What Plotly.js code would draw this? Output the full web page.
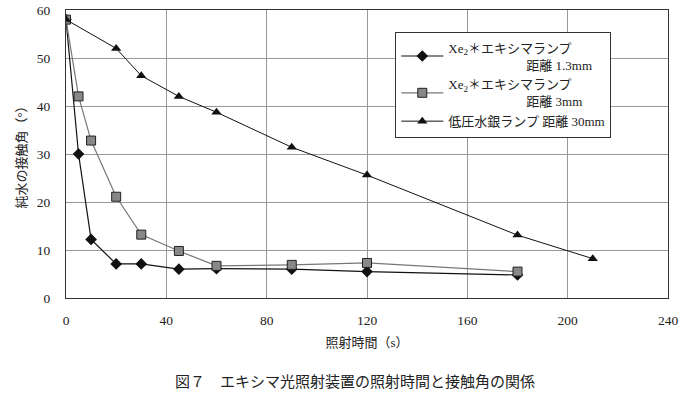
<!DOCTYPE html>
<html><head><meta charset="utf-8">
<script src="https://cdn.plot.ly/plotly-3.0.1.min.js"></script>
<style>html,body{margin:0;padding:0;background:#fff;}#chart{width:694px;height:395px;}</style>
</head><body><div id="chart"></div>
<script>
const timeA = [0, 5, 10, 20, 30, 45, 60, 90, 120, 180];
const angleA = [58, 30, 12.2, 7.1, 7.1, 6.0, 6.1, 6.0, 5.5, 4.8];
const timeB = [0, 5, 10, 20, 30, 45, 60, 90, 120, 180];
const angleB = [58, 42, 32.8, 21.1, 13.2, 9.8, 6.7, 6.9, 7.3, 5.5];
const timeC = [0, 20, 30, 45, 60, 90, 120, 180, 210];
const angleC = [58, 52, 46.3, 42, 38.7, 31.4, 25.6, 13.1, 8.2];
const nameA = "Xe<sub>2</sub>＊エキシマランプ<br>　　　　　　距離 1.3mm";
const nameB = "Xe<sub>2</sub>＊エキシマランプ<br>　　　　　　距離 3mm";
const nameC = "低圧水銀ランプ 距離 30mm";
const xTicks = [0, 40, 80, 120, 160, 200, 240];
const yTicks = [0, 10, 20, 30, 40, 50, 60];

const F = "Liberation Serif, Noto Sans CJK JP, serif";
const traces = [
  {x: timeA, y: angleA, name: nameA, mode: 'lines+markers', type: 'scatter',
   line: {color: '#111', width: 1.2},
   marker: {symbol: 'diamond', size: 9, color: '#111'}},
  {x: timeB, y: angleB, name: nameB, mode: 'lines+markers', type: 'scatter',
   line: {color: '#777', width: 1.2},
   marker: {symbol: 'square', size: 9, color: '#888', line: {color: '#222', width: 1}}},
  {x: timeC, y: angleC, name: nameC, mode: 'lines+markers', type: 'scatter',
   line: {color: '#111', width: 1},
   marker: {symbol: 'triangle-up', size: 9, color: '#111'}}
];
const layout = {
  width: 694, height: 395,
  margin: {l: 66, r: 26, t: 10, b: 97},
  paper_bgcolor: '#fff', plot_bgcolor: '#fff',
  font: {family: F, size: 12, color: '#222'},
  showlegend: true,
  legend: {x: 0.547, y: 0.925, xanchor: 'left', yanchor: 'top',
    bgcolor: '#fff', bordercolor: '#333', borderwidth: 1,
    font: {family: F, size: 13, color: '#222'}, tracegroupgap: 5, itemwidth: 42},
  xaxis: {range: [0, 240], tickvals: xTicks, showgrid: true, gridcolor: '#999', gridwidth: 1,
    zeroline: false, showline: true, linecolor: '#333', mirror: true, ticks: '',
    ticklabelstandoff: 10,
    tickfont: {family: F, size: 13.5, color: '#222'},
    title: {text: '照射時間（s）', font: {family: F, size: 13, color: '#222'}, standoff: 10}},
  yaxis: {range: [0, 60], tickvals: yTicks, showgrid: true, gridcolor: '#999', gridwidth: 1,
    zeroline: false, showline: true, linecolor: '#333', mirror: true, ticks: '',
    ticklabelstandoff: 12,
    tickfont: {family: F, size: 13.5, color: '#222'},
    title: {text: '純水の接触角（°）', font: {family: F, size: 13, color: '#222'}, standoff: 7}},
  annotations: [{text: '図７　エキシマ光照射装置の照射時間と接触角の関係', xref: 'paper', yref: 'paper',
    x: 0.48, y: -0.29, xanchor: 'center', yanchor: 'middle', showarrow: false,
    font: {family: F, size: 15, color: '#222'}}]
};
Plotly.newPlot('chart', traces, layout, {displayModeBar: false, staticPlot: true});
</script></body></html>
